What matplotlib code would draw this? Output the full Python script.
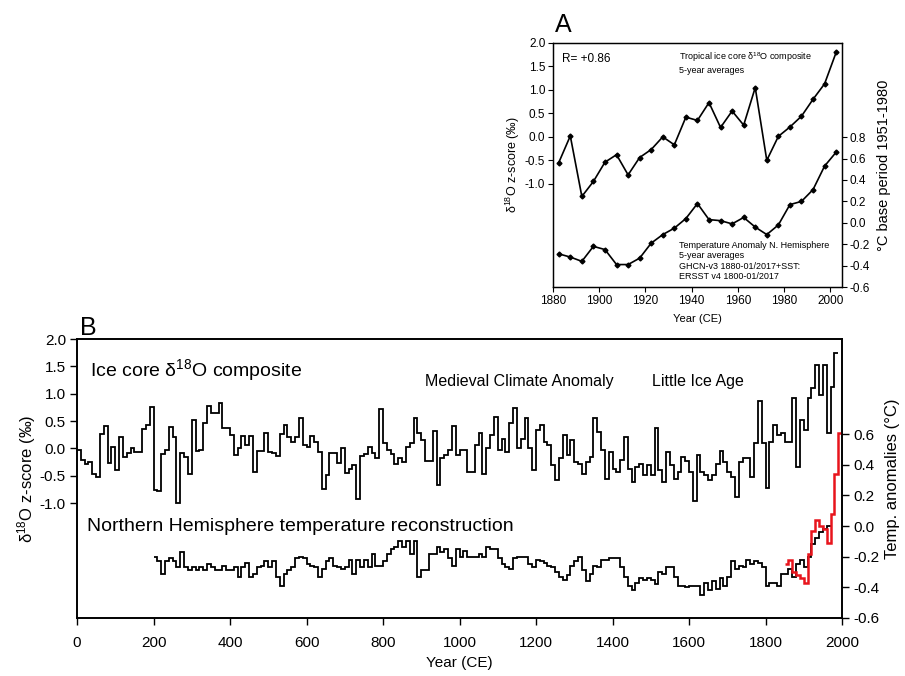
import numpy as np
import matplotlib
matplotlib.use("Agg")
import matplotlib.pyplot as plt
from matplotlib.ticker import FormatStrFormatter

plt.rcParams['font.family'] = ['Liberation Sans', 'DejaVu Sans']
plt.rcParams['mathtext.fontset'] = 'custom'
plt.rcParams['mathtext.rm'] = 'Liberation Sans'
plt.rcParams['mathtext.it'] = 'Liberation Sans:italic'
plt.rcParams['axes.unicode_minus'] = False

# ---- panel A: 5-year averages 1880-2005
years_a = [1882.5, 1887.5, 1892.5, 1897.5, 1902.5, 1907.5, 1912.5, 1917.5, 1922.5,
           1927.5, 1932.5, 1937.5, 1942.5, 1947.5, 1952.5, 1957.5, 1962.5, 1967.5,
           1972.5, 1977.5, 1982.5, 1987.5, 1992.5, 1997.5, 2002.5]
ice_a = [-0.55, 0.02, -1.27, -0.95, -0.54, -0.38, -0.81, -0.44, -0.27, 0.00, -0.17,
         0.42, 0.35, 0.73, 0.20, 0.55, 0.25, 1.05, -0.50, 0.01, 0.21, 0.44, 0.80,
         1.13, 1.80]
temp_a = [-0.29, -0.32, -0.36, -0.22, -0.25, -0.39, -0.39, -0.33, -0.19, -0.11,
          -0.05, 0.04, 0.18, 0.03, 0.02, -0.01, 0.05, -0.04, -0.11, -0.02, 0.17,
          0.20, 0.31, 0.53, 0.66]

# ---- panel B: decadal values
ice_start, temp_start, instr_start, step = 0, 200, 1850, 10
ice_b = [
    -0.03, -0.21, -0.29, -0.25, -0.46, -0.53, 0.27, 0.41, -0.26, 0.03,
    -0.40, 0.20, -0.15, -0.08, 0.01, -0.06, -0.06, 0.35, 0.43, 0.75,
    -0.76, -0.78, -0.10, -0.03, 0.40, 0.20, -1.00, -0.08, -0.15, -0.47,
    0.52, -0.04, -0.03, 0.46, 0.78, 0.64, 0.64, 0.83, 0.37, 0.37,
    0.24, -0.12, 0.00, 0.23, 0.06, 0.23, -0.43, -0.04, -0.05, 0.29,
    -0.06, -0.09, -0.13, 0.26, 0.43, 0.21, 0.12, 0.20, 0.55, 0.07,
    0.03, 0.23, 0.12, -0.06, -0.75, -0.49, -0.08, -0.08, -0.26, 0.00,
    -0.45, -0.37, -0.31, -0.92, -0.13, -0.10, 0.02, -0.08, -0.18, 0.72,
    0.10, -0.03, -0.10, -0.28, -0.18, -0.24, 0.03, 0.09, 0.55, 0.29,
    0.15, -0.23, -0.23, 0.32, -0.67, -0.18, -0.12, -0.03, 0.41, -0.12,
    -0.03, -0.03, -0.43, -0.43, 0.06, 0.28, -0.46, 0.00, 0.25, 0.58,
    -0.03, 0.18, -0.06, 0.46, 0.73, 0.00, 0.18, 0.55, 0.00, -0.40,
    0.34, 0.43, 0.12, 0.06, -0.31, -0.58, -0.18, 0.24, -0.12, 0.15,
    -0.24, -0.28, -0.46, -0.24, -0.15, 0.55, 0.30, -0.03, -0.55, -0.06,
    -0.37, -0.43, -0.21, 0.21, -0.37, -0.61, -0.34, -0.28, -0.49, -0.31,
    -0.49, 0.38, -0.40, -0.61, -0.06, -0.31, -0.56, -0.43, -0.15, -0.23,
    -0.43, -0.96, -0.12, -0.43, -0.49, -0.58, -0.49, -0.28, -0.05, -0.24,
    -0.43, -0.52, -0.89, -0.24, -0.18, -0.17, -0.52, 0.09, 0.86, 0.09,
    -0.73, 0.12, 0.42, 0.24, 0.29, 0.12, 0.11, 0.92, -0.34, 0.52,
    0.34, 0.92, 1.10, 1.53, 0.98, 1.53, 0.28, 1.13, 1.74]
temp_b = [
    -0.20, -0.23, -0.31, -0.23, -0.21, -0.23, -0.27, -0.17, -0.27, -0.29,
    -0.27, -0.29, -0.27, -0.29, -0.25, -0.27, -0.29, -0.29, -0.26, -0.29,
    -0.29, -0.27, -0.33, -0.27, -0.24, -0.33, -0.31, -0.27, -0.26, -0.23,
    -0.27, -0.23, -0.33, -0.39, -0.31, -0.29, -0.27, -0.21, -0.20, -0.21,
    -0.25, -0.26, -0.27, -0.33, -0.28, -0.23, -0.21, -0.26, -0.27, -0.28,
    -0.27, -0.22, -0.31, -0.22, -0.27, -0.22, -0.27, -0.18, -0.26, -0.26,
    -0.23, -0.18, -0.15, -0.14, -0.10, -0.14, -0.10, -0.18, -0.10, -0.33,
    -0.29, -0.29, -0.18, -0.18, -0.14, -0.17, -0.15, -0.21, -0.26,
    -0.15, -0.20, -0.16, -0.20, -0.20, -0.20, -0.18, -0.20, -0.14, -0.15,
    -0.15, -0.21, -0.25, -0.27, -0.28, -0.21, -0.20, -0.20, -0.20, -0.25,
    -0.27, -0.22, -0.23, -0.24, -0.26, -0.27, -0.30, -0.33, -0.35, -0.32,
    -0.26, -0.23, -0.20, -0.29, -0.36, -0.31, -0.26, -0.27, -0.22, -0.22,
    -0.21, -0.21, -0.21, -0.27, -0.33, -0.39, -0.42, -0.37, -0.34, -0.35,
    -0.34, -0.35, -0.38, -0.30, -0.31, -0.27, -0.27, -0.33, -0.39, -0.39,
    -0.40, -0.39, -0.39, -0.39, -0.45, -0.37, -0.42, -0.36, -0.41, -0.34,
    -0.39, -0.33, -0.23, -0.28, -0.26, -0.27, -0.22, -0.25, -0.23, -0.24,
    -0.27, -0.39, -0.37, -0.37, -0.39, -0.31, -0.31, -0.28, -0.33, -0.25,
    -0.22, -0.27, -0.20, -0.12, -0.08, -0.04, -0.02, 0.00]
instr_b = [-0.25, -0.22, -0.30, -0.32, -0.34, -0.37, -0.18, -0.03, 0.04, 0.00,
           -0.02, -0.11, 0.08, 0.34, 0.61]

fig = plt.figure(figsize=(9.05, 6.76), dpi=100)

# ================= panel A =================
axA = fig.add_axes([0.611, 0.5754, 0.3193, 0.361])
axA2 = axA.twinx()
axA.plot(years_a, ice_a, color='black', lw=1.2, marker='D', ms=2.5)
axA2.plot(years_a, temp_a, color='black', lw=1.2, marker='D', ms=2.5)
axA.set_xlim(1880, 2005)
axA.set_ylim(-3.2, 2.0)
axA2.set_ylim(-0.6, 1.68)
axA.set_xticks(np.arange(1880, 2001, 20))
axA.set_yticks(np.arange(-1.0, 2.01, 0.5))
axA2.set_yticks(np.arange(-0.6, 0.81, 0.2))
axA.yaxis.set_major_formatter(FormatStrFormatter('%.1f'))
axA2.yaxis.set_major_formatter(FormatStrFormatter('%.1f'))
for a in (axA, axA2):
    a.tick_params(direction='out', length=3.5, width=0.8, labelsize=8.5, pad=2)
    for s in a.spines.values():
        s.set_linewidth(0.9)
axA.set_xlabel('Year (CE)', fontsize=8, labelpad=5)
axA.set_ylabel(r'$\mathregular{\delta^{18}}$O z-score (‰)', fontsize=9, labelpad=2)
axA2.set_ylabel('°C base period 1951-1980', fontsize=10.5, labelpad=5)
axA.text(1884, 1.66, 'R= +0.86', fontsize=8.5, va='center')
axA.text(1934.5, 1.84, 'Tropical ice core ' + r'$\mathregular{\delta^{18}}$O composite' + '\n5-year averages',
         fontsize=6.5, va='top', linespacing=1.2)
axA2.text(1934.5, -0.17, 'Temperature Anomaly N. Hemisphere\n5-year averages\n'
          'GHCN-v3 1880-01/2017+SST:\nERSST v4 1800-01/2017',
          fontsize=6.5, va='top', linespacing=1.2)
fig.text(555 / 905, 1 - 32 / 676, 'A', fontsize=18, va='baseline')

# ================= panel B =================
axB = fig.add_axes([0.0851, 0.0858, 0.8453, 0.4127])
axB2 = axB.twinx()
ice_edges = np.arange(ice_start, ice_start + step * (len(ice_b) + 1), step)
temp_edges = np.arange(temp_start, temp_start + step * (len(temp_b) + 1), step)
instr_edges = np.arange(instr_start, instr_start + step * (len(instr_b) + 1), step)
axB.stairs(ice_b, ice_edges, color='black', lw=1.3, baseline=None)
axB2.stairs(temp_b, temp_edges, color='black', lw=1.3, baseline=None)
axB2.stairs(instr_b, instr_edges, color='#e8141c', lw=1.8, baseline=None)
axB.set_xlim(0, 2000)
axB.set_ylim(-3.1, 2.0)
axB2.set_ylim(-0.6, 1.22)
axB.set_xticks(np.arange(0, 2001, 200))
axB.set_yticks(np.arange(-1.0, 2.01, 0.5))
axB2.set_yticks(np.arange(-0.6, 0.61, 0.2))
axB.yaxis.set_major_formatter(FormatStrFormatter('%.1f'))
axB2.yaxis.set_major_formatter(FormatStrFormatter('%.1f'))
for a in (axB, axB2):
    a.tick_params(direction='out', length=5, width=1.0, labelsize=11, pad=3)
    for s in a.spines.values():
        s.set_linewidth(1.2)
axB.tick_params(axis='x', pad=8)
axB.set_xlabel('Year (CE)', fontsize=11, labelpad=4)
axB.set_ylabel(r'$\mathregular{\delta^{18}}$O z-score (‰)', fontsize=12, labelpad=1)
axB2.set_ylabel('Temp. anomalies (°C)', fontsize=12, labelpad=4)
axB.text(34, 1.44, 'Ice core ' + r'$\mathregular{\delta^{18}}$O composite', fontsize=14, va='center')
axB.text(910, 1.22, 'Medieval Climate Anomaly', fontsize=11.5, va='center')
axB.text(1503, 1.22, 'Little Ice Age', fontsize=11.5, va='center')
axB2.text(26, 0.0, 'Northern Hemisphere temperature reconstruction', fontsize=14, va='center')
fig.text(80 / 905, 1 - 335 / 676, 'B', fontsize=18, va='baseline')

fig.savefig('out.png', dpi=100)
